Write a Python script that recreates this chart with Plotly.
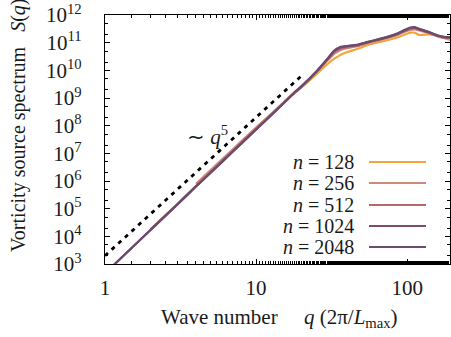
import numpy as np
import plotly.graph_objects as go

# ---- data ----
labels = ["n = 128", "n = 256", "n = 512", "n = 1024", "n = 2048"]
colors = ["#f4a43a", "#cc8a78", "#b5696b", "#7e4b6b", "#6b4b6e"]

q_base = [1, 1.5, 2, 3, 4, 6, 8, 10, 14, 18, 20, 25, 30, 33, 36, 40, 46, 55, 65,
          75, 85, 95, 105, 112, 120, 140, 160, 180, 192]
logS_2048 = [2.66, 3.58, 4.23, 5.14, 5.80, 6.71, 7.36, 7.86, 8.62, 9.20, 9.42, 9.95,
             10.45, 10.72, 10.84, 10.88, 10.92, 11.03, 11.13, 11.22, 11.32, 11.45,
             11.55, 11.56, 11.50, 11.38, 11.26, 11.20, 11.20]
logS_1024 = [2.66, 3.58, 4.23, 5.14, 5.80, 6.71, 7.36, 7.86, 8.62, 9.20, 9.42, 9.95,
             10.44, 10.70, 10.82, 10.87, 10.91, 11.02, 11.12, 11.21, 11.31, 11.43,
             11.53, 11.54, 11.49, 11.37, 11.25, 11.19, 11.19]
logS_512 = [None, None, 4.25, 5.16, 5.82, 6.73, 7.38, 7.88, 8.63, 9.20, 9.42, 9.94,
            10.42, 10.66, 10.78, 10.84, 10.89, 11.01, 11.11, 11.20, 11.29, 11.41,
            11.50, 11.52, 11.47, 11.36, 11.24, 11.18, 11.17]
logS_256 = [None, None, None, None, 5.90, 6.80, 7.44, 7.93, 8.66, 9.22, 9.43, 9.93,
            10.38, 10.60, 10.73, 10.80, 10.86, 10.99, 11.09, 11.18, 11.27, 11.38,
            11.46, 11.48, 11.44, 11.34, 11.22, 11.16, 11.15]
logS_128 = [None, None, None, None, None, None, 7.42, 7.92, 8.64, 9.18, 9.38, 9.85,
            10.25, 10.42, 10.55, 10.66, 10.76, 10.92, 11.02, 11.10, 11.18, 11.28,
            11.36, 11.36, 11.28, 11.30, 11.24, 11.15, 11.10]
series = [logS_128, logS_256, logS_512, logS_1024, logS_2048]

q_guide = [1, 20]
guide_amp = 2000.0   # ~ q^5 guide line amplitude
guide_exp = 5

fig = go.Figure()
FONT = "Liberation Serif"
TXT = "#1a1a1a"

for lab, col, ls in zip(labels, colors, series):
    xs = [q for q, v in zip(q_base, ls) if v is not None]
    ys = [10 ** v for v in ls if v is not None]
    fig.add_trace(go.Scatter(x=xs, y=ys, mode="lines", name=lab,
                             line=dict(color=col, width=2.2, shape="spline", smoothing=0.6),
                             showlegend=False))

fig.add_trace(go.Scatter(x=q_guide, y=[guide_amp * q ** guide_exp for q in q_guide],
                         mode="lines", line=dict(color="black", width=2.8, dash="4px,5px"),
                         showlegend=False))

axis_common = dict(type="log", showgrid=False, zeroline=False, showline=True,
                   linecolor="black", linewidth=1.3, mirror="ticks", ticks="inside",
                   ticklen=5, tickcolor="black", tickwidth=1,
                   tickfont=dict(family=FONT, size=21, color=TXT),
                   minor=dict(ticks="inside", ticklen=3, tickcolor="black", showgrid=False))

fig.update_xaxes(**axis_common, range=[0, np.log10(192)],
                 tickvals=[1, 10, 100], ticktext=["1", "10", "100"],
                 ticklabelstandoff=5)
fig.update_yaxes(**axis_common, range=[3, 12],
                 tickvals=[10 ** k for k in range(3, 13)],
                 ticktext=[f"10<sup>{k}</sup>" for k in range(3, 13)],
                 ticklabelstandoff=18)

# legend drawn manually (text right-aligned, line after text)
ann = []
shapes = []
row_y = [162, 183, 205, 226, 247]
pl, pr, pt, pb = 105, 450, 15, 264
W, H = pr - pl, pb - pt
def px(x): return (x - pl) / W
def py(y): return (pb - y) / H
for lab, col, yy in zip(labels, colors, row_y):
    n = lab.split("= ")[1]
    ann.append(dict(x=px(356), y=py(yy), xref="paper", yref="paper", xanchor="right",
                    yanchor="middle", showarrow=False,
                    text=f"<i>n</i>&nbsp;=&nbsp;{n}", font=dict(family=FONT, size=20, color=TXT)))
    shapes.append(dict(type="line", xref="paper", yref="paper", x0=px(369), x1=px(426),
                       y0=py(yy), y1=py(yy), line=dict(color=col, width=2.2)))

ann.append(dict(x=px(230), y=py(135), xref="paper", yref="paper", showarrow=False,
                xanchor="right", yanchor="middle",
                text="∼&nbsp;<i>q</i><sup>5</sup>", font=dict(family=FONT, size=21, color=TXT)))
ann.append(dict(x=px(279), y=py(318), xref="paper", yref="paper", showarrow=False,
                xanchor="center", yanchor="middle",
                text="Wave number&nbsp;&nbsp;&nbsp;&nbsp;&nbsp;<i>q</i>&nbsp;(2π/<i>L</i><sub>max</sub>)",
                font=dict(family=FONT, size=21, color=TXT)))
ann.append(dict(x=px(18), y=py(126), xref="paper", yref="paper", showarrow=False,
                xanchor="center", yanchor="middle", textangle=-90,
                text="Vorticity source spectrum&nbsp;&nbsp;&nbsp;<i>S</i>(<i>q</i>)",
                font=dict(family=FONT, size=20, color=TXT)))

fig.update_layout(width=451, height=337, margin=dict(l=pl, r=451 - pr, t=pt, b=337 - pb),
                  plot_bgcolor="white", paper_bgcolor="white",
                  annotations=ann, shapes=shapes, showlegend=False)

fig.write_html("out.html")
